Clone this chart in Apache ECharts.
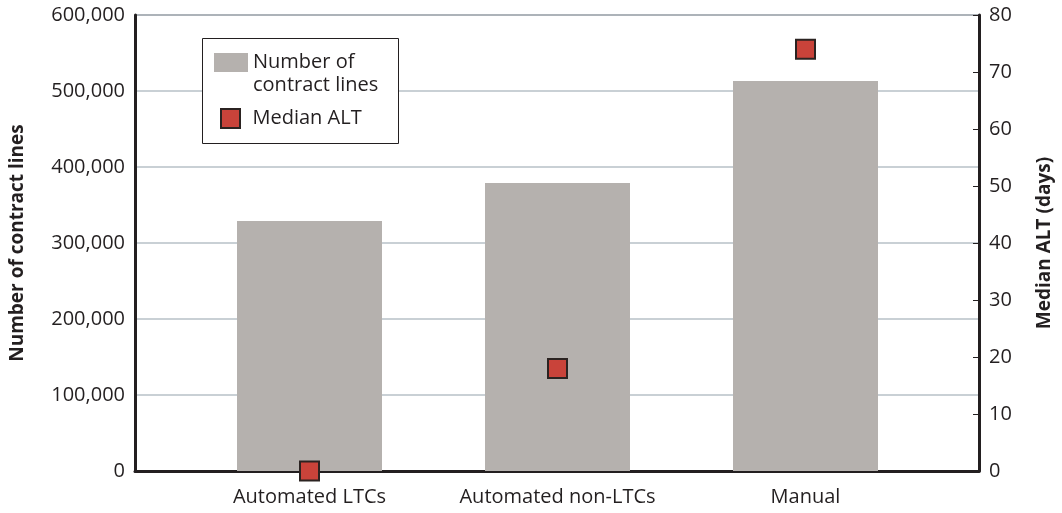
<!DOCTYPE html>
<html>
<head>
<meta charset="utf-8">
<script src="https://cdn.jsdelivr.net/npm/echarts@6/dist/echarts.min.js"></script>
<style>
  html, body { margin: 0; padding: 0; background: #fff; }
  #chart { width: 1062px; height: 513px; }
</style>
</head>
<body>
<div id="chart"></div>
<script>
// data
var categories = ['Automated LTCs', 'Automated non-LTCs', 'Manual'];
var contractLines = [329000, 379000, 513000];
var medianAlt = [0, 18, 74];

var fontName = '"Open Sans", "Noto Sans", sans-serif';
var inkColor = '#231f20';

function withCommas(v) {
    return String(v).replace(/\B(?=(\d{3})+(?!\d))/g, ',');
}

var option = {
    animation: false,
    textStyle: { fontFamily: fontName },
    graphic: [{
        type: 'rect',
        left: 202,
        top: 38,
        shape: { width: 196, height: 105 },
        style: { fill: '#fff', stroke: inkColor, lineWidth: 1 },
        z: 5
    }],
    legend: [
        {
            left: 214,
            top: 28,
            padding: 0,
            itemWidth: 34,
            itemHeight: 19,
            z: 10,
            data: [{ name: 'Number of contract lines', icon: 'rect' }],
            // empty first line keeps the swatch level with "Number of"
            formatter: function () { return '\nNumber of\ncontract lines'; },
            textStyle: { fontSize: 20, color: inkColor, lineHeight: 23 }
        },
        {
            left: 220,
            top: 108,
            padding: 0,
            itemWidth: 34,
            itemHeight: 19,
            z: 10,
            data: [{ name: 'Median ALT', icon: 'path://M0,0L10,0L10,10L0,10Z' }],
            textStyle: { fontSize: 20, color: inkColor }
        }
    ],
    grid: [
        // frame with both value axes
        { left: 134, right: 81, top: 15, bottom: 42, show: true, borderColor: inkColor, borderWidth: 1 },
        // narrower grid that places the three categories
        { left: 185.5, right: 132.5, top: 15, bottom: 42 }
    ],
    xAxis: [
        {
            gridIndex: 0,
            type: 'value',
            min: 0,
            max: 1,
            axisLine: { show: true, lineStyle: { color: inkColor, width: 3 } },
            axisTick: { show: false },
            axisLabel: { show: false },
            splitLine: { show: false }
        },
        {
            gridIndex: 1,
            type: 'category',
            data: categories,
            axisLine: { show: false },
            axisTick: { show: false },
            axisLabel: { interval: 0, margin: 16, fontSize: 20, color: inkColor }
        }
    ],
    yAxis: [
        {
            gridIndex: 0,
            type: 'value',
            position: 'left',
            min: 0,
            max: 600000,
            interval: 100000,
            name: 'Number of contract lines',
            nameLocation: 'middle',
            nameGap: 108,
            nameTextStyle: { fontSize: 19, fontWeight: 'bold', color: inkColor },
            axisLine: { show: true, lineStyle: { color: inkColor, width: 3 } },
            axisTick: { show: false },
            axisLabel: { margin: 10, fontSize: 20, color: inkColor, formatter: withCommas },
            splitLine: { show: true, lineStyle: { color: '#b7c0c7', width: 1.5 } }
        },
        {
            gridIndex: 0,
            type: 'value',
            position: 'right',
            min: 0,
            max: 80,
            interval: 10,
            name: 'Median ALT (days)',
            nameLocation: 'middle',
            nameGap: 56,
            nameTextStyle: { fontSize: 19, fontWeight: 'bold', color: inkColor },
            axisLine: { show: true, lineStyle: { color: inkColor, width: 3 } },
            axisTick: { show: true, inside: true, length: 6, lineStyle: { color: inkColor, width: 1 } },
            axisLabel: { margin: 10, fontSize: 20, color: inkColor },
            splitLine: { show: false }
        },
        {
            gridIndex: 1,
            type: 'value',
            min: 0,
            max: 600000,
            show: false
        },
        {
            gridIndex: 1,
            type: 'value',
            position: 'right',
            min: 0,
            max: 80,
            show: false
        }
    ],
    series: [
        {
            name: 'Number of contract lines',
            type: 'bar',
            xAxisIndex: 1,
            yAxisIndex: 2,
            barWidth: 145,
            itemStyle: { color: '#b5b1ae' },
            data: contractLines
        },
        {
            name: 'Median ALT',
            type: 'scatter',
            xAxisIndex: 1,
            yAxisIndex: 3,
            symbol: 'rect',
            symbolSize: 19,
            z: 6,
            itemStyle: { color: '#c9433a', borderColor: '#2b2321', borderWidth: 2, opacity: 1 },
            data: medianAlt
        }
    ]
};

var chart = echarts.init(document.getElementById('chart'));
chart.setOption(option);
</script>
</body>
</html>
